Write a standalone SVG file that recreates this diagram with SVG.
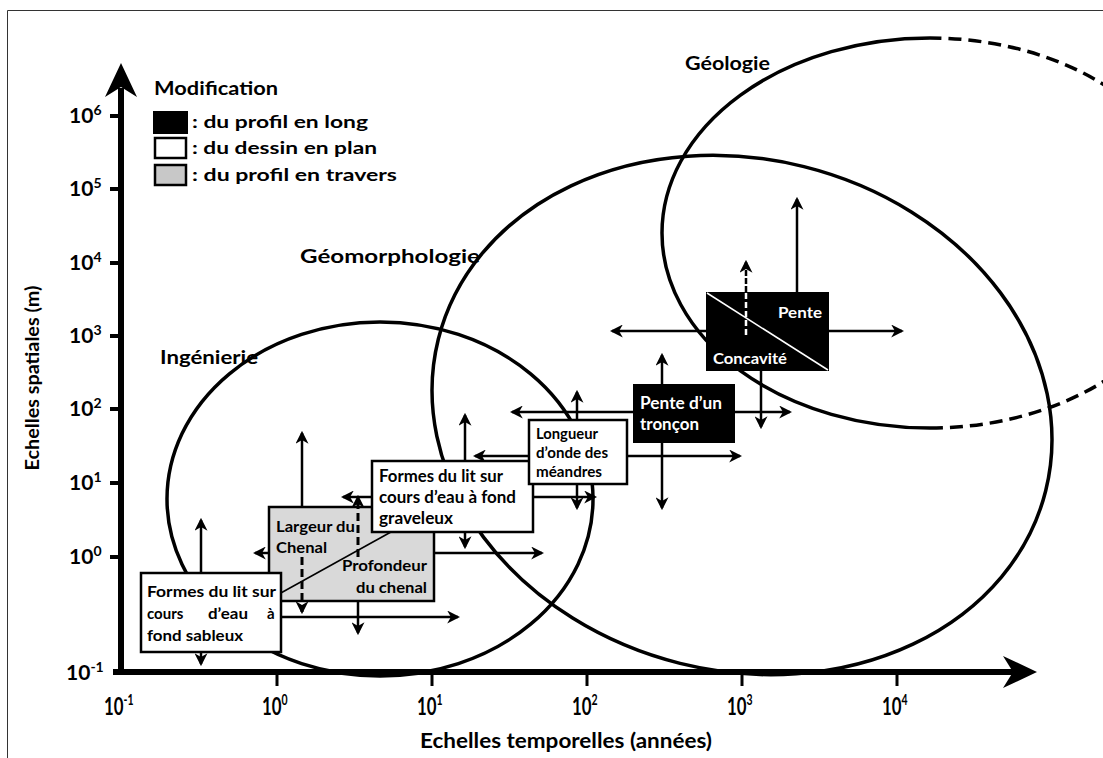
<svg xmlns="http://www.w3.org/2000/svg" width="1103" height="758" viewBox="0 0 1103 758">
<style>
.t{font-family:Lato,"Liberation Sans","DejaVu Sans",sans-serif;font-weight:bold;fill:#000}
.w{fill:#fff}
.ell{fill:none;stroke:#000;stroke-width:3.5}
.ar{stroke:#000;stroke-width:2.5;fill:none;marker-end:url(#ah)}
.da{stroke:#000;stroke-width:3;fill:none;stroke-dasharray:8,4;marker-end:url(#ah)}
.box{stroke:#000;stroke-width:2.5}
</style>
<defs>
<marker id="ah" viewBox="0 0 12 12" markerWidth="13" markerHeight="13" refX="10" refY="6" orient="auto" markerUnits="userSpaceOnUse">
<path d="M0,0 L12,6 L0,12 L3.5,6 z" fill="#000"/>
</marker>
</defs>
<rect width="1103" height="758" fill="#fff"/>
<path d="M7.5,758 V10.5 H1103" fill="none" stroke="#333" stroke-width="1"/>

<g id="ellipses">
<ellipse class="ell" cx="380" cy="499" rx="213" ry="177"/>
<ellipse class="ell" cx="742" cy="415" rx="313" ry="256" transform="rotate(14 742 415)"/>
<path class="ell" d="M930,38 A268,195 0 0 0 930,428"/>
<path class="ell" d="M930,428 A268,195 0 0 0 930,38" stroke-dasharray="13,7"/>
</g>

<g id="axes">
<line x1="121" y1="675" x2="121" y2="88" stroke="#000" stroke-width="6"/>
<polygon points="121,63 137,97 121,87 105,97" fill="#000"/>
<line x1="113" y1="672" x2="1015" y2="672" stroke="#000" stroke-width="6"/>
<polygon points="1037,672 1003,656 1013,672 1003,688" fill="#000"/>
<g stroke="#000" stroke-width="4">
<line x1="110" y1="116" x2="121" y2="116"/>
<line x1="110" y1="189" x2="121" y2="189"/>
<line x1="110" y1="263" x2="121" y2="263"/>
<line x1="110" y1="336" x2="121" y2="336"/>
<line x1="110" y1="409" x2="121" y2="409"/>
<line x1="110" y1="483" x2="121" y2="483"/>
<line x1="110" y1="557" x2="121" y2="557"/>
</g>
<g stroke="#000" stroke-width="3">
<line x1="277" y1="672" x2="277" y2="686"/>
<line x1="432" y1="672" x2="432" y2="686"/>
<line x1="587" y1="672" x2="587" y2="686"/>
<line x1="742" y1="672" x2="742" y2="686"/>
<line x1="897" y1="672" x2="897" y2="686"/>
</g>
<g class="t" font-size="21">
<text x="69" y="123">10<tspan font-size="14" dy="-8">6</tspan></text>
<text x="69" y="196">10<tspan font-size="14" dy="-8">5</tspan></text>
<text x="69" y="270">10<tspan font-size="14" dy="-8">4</tspan></text>
<text x="69" y="343">10<tspan font-size="14" dy="-8">3</tspan></text>
<text x="69" y="416">10<tspan font-size="14" dy="-8">2</tspan></text>
<text x="69" y="490">10<tspan font-size="14" dy="-8">1</tspan></text>
<text x="69" y="564">10<tspan font-size="14" dy="-8">0</tspan></text>
<text x="66" y="680">10<tspan font-size="14" dy="-8">-1</tspan></text>
</g>
<g class="t" font-size="24">
<text transform="translate(104,715) scale(0.7,1)">10<tspan font-size="15" dy="-10">-1</tspan></text>
<text transform="translate(262,715) scale(0.7,1)">10<tspan font-size="15" dy="-10">0</tspan></text>
<text transform="translate(417,715) scale(0.7,1)">10<tspan font-size="15" dy="-10">1</tspan></text>
<text transform="translate(572,715) scale(0.7,1)">10<tspan font-size="15" dy="-10">2</tspan></text>
<text transform="translate(727,715) scale(0.7,1)">10<tspan font-size="15" dy="-10">3</tspan></text>
<text transform="translate(882,715) scale(0.7,1)">10<tspan font-size="15" dy="-10">4</tspan></text>
</g>
<text class="t" font-size="18" transform="translate(39,378) rotate(-90)" text-anchor="middle" textLength="185" lengthAdjust="spacingAndGlyphs">Echelles spatiales (m)</text>
<text class="t" font-size="20" x="420" y="748" textLength="292" lengthAdjust="spacingAndGlyphs">Echelles temporelles (années)</text>
</g>

<g id="legend">
<text class="t" font-size="18" x="154" y="95" textLength="124" lengthAdjust="spacingAndGlyphs">Modification</text>
<rect x="154" y="112" width="33" height="21" fill="#000" stroke="#000" stroke-width="2"/>
<rect x="155" y="138" width="31" height="20" fill="#fff" stroke="#000" stroke-width="2.5"/>
<rect x="155" y="165" width="31" height="20" fill="#c8c8c8" stroke="#000" stroke-width="2.5"/>
<text class="t" font-size="17" x="192" y="128" textLength="176" lengthAdjust="spacingAndGlyphs">: du profil en long</text>
<text class="t" font-size="17" x="192" y="154" textLength="185" lengthAdjust="spacingAndGlyphs">: du dessin en plan</text>
<text class="t" font-size="17" x="192" y="181" textLength="205" lengthAdjust="spacingAndGlyphs">: du profil en travers</text>
</g>

<g id="domain-labels">
<text class="t" font-size="19" x="685" y="70" textLength="85" lengthAdjust="spacingAndGlyphs">Géologie</text>
<text class="t" font-size="19" x="300" y="263" textLength="180" lengthAdjust="spacingAndGlyphs">Géomorphologie</text>
<text class="t" font-size="19" x="160" y="364" textLength="98" lengthAdjust="spacingAndGlyphs">Ingénierie</text>
</g>

<g id="connectors">
<line class="ar" x1="201" y1="573" x2="201" y2="520"/>
<line class="ar" x1="201" y1="652" x2="201" y2="664"/>
<line class="ar" x1="281" y1="617" x2="458" y2="617"/>
<line class="ar" x1="302" y1="507" x2="302" y2="433"/>
<line class="ar" x1="269" y1="553" x2="255" y2="553"/>
<line class="ar" x1="434" y1="553" x2="542" y2="553"/>
<line class="ar" x1="358" y1="601" x2="358" y2="633"/>
<line class="ar" x1="465" y1="461" x2="465" y2="415"/>
<line class="ar" x1="465" y1="532" x2="465" y2="547"/>
<line class="ar" x1="372" y1="497" x2="343" y2="497"/>
<line class="ar" x1="533" y1="497" x2="595" y2="497"/>
<line class="ar" x1="577" y1="420" x2="577" y2="392"/>
<line class="ar" x1="577" y1="484" x2="577" y2="508"/>
<line class="ar" x1="529" y1="456" x2="475" y2="456"/>
<line class="ar" x1="627" y1="456" x2="740" y2="456"/>
<line class="ar" x1="662" y1="384" x2="662" y2="355"/>
<line class="ar" x1="662" y1="443" x2="662" y2="508"/>
<line class="ar" x1="633" y1="412" x2="512" y2="412"/>
<line class="ar" x1="735" y1="412" x2="790" y2="412"/>
<line class="ar" x1="797" y1="292" x2="797" y2="199"/>
<line class="ar" x1="761" y1="371" x2="761" y2="427"/>
<line class="ar" x1="706" y1="331" x2="612" y2="331"/>
<line class="ar" x1="829" y1="331" x2="902" y2="331"/>
</g>

<g id="node-grey">
<rect class="box" x="269" y="507" width="165" height="94" fill="#d9d9d9"/>
<line x1="270" y1="599" x2="400" y2="527" stroke="#000" stroke-width="1.5"/>
<text class="t" font-size="15.5" x="276" y="532" textLength="79" lengthAdjust="spacingAndGlyphs">Largeur du</text>
<text class="t" font-size="15.5" x="276" y="553" textLength="51" lengthAdjust="spacingAndGlyphs">Chenal</text>
<text class="t" font-size="15.5" x="342" y="571" textLength="85" lengthAdjust="spacingAndGlyphs">Profondeur</text>
<text class="t" font-size="15.5" x="356" y="593" textLength="71" lengthAdjust="spacingAndGlyphs">du chenal</text>
<line class="da" x1="302" y1="557" x2="302" y2="612"/>
<line class="da" x1="358" y1="557" x2="358" y2="497"/>
</g>

<g id="node-sableux">
<rect class="box" x="141" y="573" width="140" height="79" fill="#fff"/>
<text class="t" font-size="15" x="147" y="597" textLength="129" lengthAdjust="spacingAndGlyphs">Formes du lit sur</text>
<text class="t" font-size="15" x="147" y="619">cours</text>
<text class="t" font-size="15" x="208" y="619" textLength="40" lengthAdjust="spacingAndGlyphs">d’eau</text>
<text class="t" font-size="15" x="267" y="619">à</text>
<text class="t" font-size="15" x="147" y="641" textLength="96" lengthAdjust="spacingAndGlyphs">fond sableux</text>
</g>

<g id="node-graveleux">
<rect class="box" x="372" y="461" width="161" height="71" fill="#fff"/>
<text class="t" font-size="16.5" x="379" y="482" textLength="124" lengthAdjust="spacingAndGlyphs">Formes du lit sur</text>
<text class="t" font-size="16.5" x="379" y="503" textLength="137" lengthAdjust="spacingAndGlyphs">cours d’eau à fond</text>
<text class="t" font-size="16.5" x="379" y="524" textLength="74" lengthAdjust="spacingAndGlyphs">graveleux</text>
</g>

<g id="node-longueur">
<rect class="box" x="529" y="420" width="98" height="64" fill="#fff"/>
<text class="t" font-size="14.5" x="536" y="439" textLength="62" lengthAdjust="spacingAndGlyphs">Longueur</text>
<text class="t" font-size="14.5" x="536" y="458" textLength="72" lengthAdjust="spacingAndGlyphs">d’onde des</text>
<text class="t" font-size="14.5" x="536" y="477" textLength="66" lengthAdjust="spacingAndGlyphs">méandres</text>
</g>

<g id="node-troncon">
<rect x="633" y="384" width="102" height="59" fill="#000"/>
<text class="t w" font-size="16.5" x="640" y="409" textLength="82" lengthAdjust="spacingAndGlyphs">Pente d’un</text>
<text class="t w" font-size="16.5" x="640" y="430" textLength="59" lengthAdjust="spacingAndGlyphs">tronçon</text>
</g>

<g id="node-pente">
<rect x="706" y="292" width="123" height="79" fill="#000"/>
<line x1="707" y1="293" x2="828" y2="370" stroke="#fff" stroke-width="1.5"/>
<line x1="746" y1="335" x2="746" y2="293" stroke="#fff" stroke-width="2.5" stroke-dasharray="6,3"/>
<line x1="746" y1="292" x2="746" y2="262" stroke="#000" stroke-width="2.5" stroke-dasharray="6,2" marker-end="url(#ah)"/>
<text class="t w" font-size="15.5" x="778" y="318" textLength="44" lengthAdjust="spacingAndGlyphs">Pente</text>
<text class="t w" font-size="15.5" x="713" y="364" textLength="74" lengthAdjust="spacingAndGlyphs">Concavité</text>
</g>
</svg>
